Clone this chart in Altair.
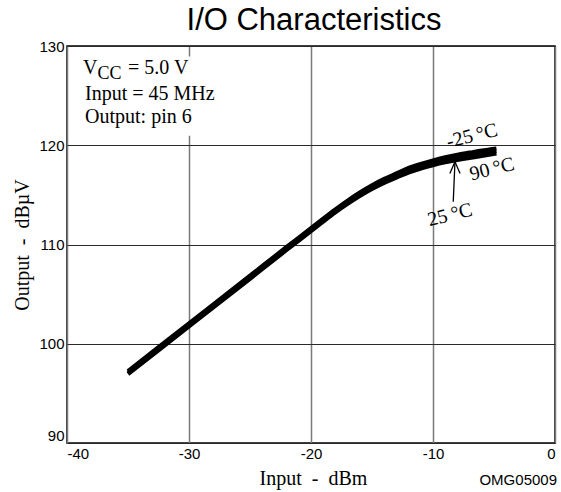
import altair as alt
import pandas as pd

# Input level (dBm) at which each curve is sampled
input_dbm = [-35, -30, -25, -22, -20, -19, -18, -17, -16, -15, -14, -13, -12, -11, -10, -9, -8, -7, -6, -4.8]

# Output level (dBuV) per ambient temperature
out_cold = [97.25, 102.05, 106.85, 109.75, 111.65, 112.61, 113.54, 114.42, 115.23, 115.96, 116.6, 117.15, 117.7, 118.11, 118.47, 118.78, 119.04, 119.25, 119.46, 119.67]
out_room = [97.1, 101.9, 106.7, 109.6, 111.5, 112.46, 113.39, 114.26, 115.06, 115.78, 116.41, 116.95, 117.48, 117.88, 118.23, 118.53, 118.78, 118.99, 119.19, 119.42]
out_hot = [96.95, 101.75, 106.55, 109.45, 111.35, 112.31, 113.24, 114.1, 114.89, 115.6, 116.22, 116.75, 117.26, 117.65, 117.99, 118.28, 118.52, 118.73, 118.92, 119.17]
temps = ["-25°C", "25°C", "90°C"]

x_ticks = [-40, -30, -20, -10, 0]
y_ticks = [90, 100, 110, 120, 130]

SERIF = "Liberation Serif"
SANS = "Liberation Sans"
NB = "\u00a0"

rows = []
for t, series in zip(temps, [out_cold, out_room, out_hot]):
    for xv, yv in zip(input_dbm, series):
        rows.append({"input": xv, "output": yv, "temp": t})
curves = pd.DataFrame(rows)

xs = alt.Scale(domain=[-40, 0], nice=False, zero=False)
ys = alt.Scale(domain=[90, 130], nice=False, zero=False)

lines = alt.Chart(curves).mark_line(
    color="black", strokeWidth=4.2, interpolate="monotone", strokeCap="butt"
).encode(
    x=alt.X("input:Q", scale=xs, title=f"Input{NB}{NB}-{NB}{NB}dBm",
            axis=alt.Axis(values=x_ticks, grid=True, gridColor="#7a7a7a", gridWidth=1.5,
                          ticks=False, domain=False, labelFont=SANS, labelFontSize=15,
                          labelColor="black", labelPadding=3, labelAngle=0,
                          labelExpr="'' + datum.value",
                          titleFont=SERIF, titleFontSize=20, titleFontWeight="normal",
                          titleColor="black", titleX=246, titleY=41,
                          titleBaseline="alphabetic", titleAlign="center")),
    y=alt.Y("output:Q", scale=ys, title=f"Output{NB}{NB}-{NB}{NB}dBµV",
            axis=alt.Axis(values=y_ticks, grid=True, gridColor="#2a2a2a", gridWidth=1.1,
                          ticks=False, domain=False, labelFont=SANS, labelFontSize=15,
                          labelColor="black", labelPadding=3,
                          labelBaseline={"condition": {"test": "datum.value == 90", "value": "bottom"},
                                         "value": "middle"},
                          titleFont=SERIF, titleFontSize=20, titleFontWeight="normal",
                          titleColor="black", titleX=-45, titleY=198.5, titleAngle=270,
                          titleBaseline="middle", titleAlign="center")),
    detail="temp:N",
)

# white panel behind the operating-condition notes
box = pd.DataFrame({"x1": [-39.84], "x2": [-24.0], "y1": [128.95], "y2": [120.95]})
box_layer = alt.Chart(box).mark_rect(color="white").encode(
    x=alt.X("x1:Q", scale=xs), x2="x2:Q",
    y=alt.Y("y1:Q", scale=ys), y2="y2:Q",
)

# arrow pointing at the 25°C curve
arrow = pd.DataFrame({
    "x": [-8.34, -8.20, -8.20],
    "y": [114.31, 118.34, 118.34],
    "x2": [-8.20, -8.62, -7.78],
    "y2": [118.34, 117.15, 117.15],
})
arrow_layer = alt.Chart(arrow).mark_rule(color="black", strokeWidth=1.3).encode(
    x=alt.X("x:Q", scale=xs), y=alt.Y("y:Q", scale=ys),
    x2="x2:Q", y2="y2:Q",
)

# temperature labels along the curves
temp_lbl = pd.DataFrame({
    "x": [-6.80, -5.16, -8.61],
    "y": [120.93, 117.6, 112.97],
    "text": ["-25\u2009°C", "90\u2009°C", "25\u2009°C"],
})
temp_layer = alt.Chart(temp_lbl).mark_text(
    font=SERIF, fontSize=20, angle=346, align="center", baseline="middle", color="black"
).encode(
    x=alt.X("x:Q", scale=xs), y=alt.Y("y:Q", scale=ys), text="text:N"
)

# operating conditions notes
notes = pd.DataFrame({
    "x": [-38.69, -37.50, -35.0, -38.52, -38.52],
    "y": [127.2, 126.65, 127.2, 124.6, 122.25],
    "text": ["V", "CC", "= 5.0 V", "Input = 45 MHz", "Output: pin 6"],
    "size": [20, 18, 20, 20, 20],
})
notes_layer = alt.Chart(notes).mark_text(
    font=SERIF, align="left", baseline="alphabetic", color="black"
).encode(
    x=alt.X("x:Q", scale=xs), y=alt.Y("y:Q", scale=ys),
    text="text:N", size=alt.Size("size:Q", scale=None, legend=None),
)

code_layer = alt.Chart(pd.DataFrame({"t": ["OMG05009"]})).mark_text(
    font=SANS, fontSize=15, align="right", baseline="alphabetic", color="black"
).encode(x=alt.value(490), y=alt.value(439), text="t:N")

chart = alt.layer(
    lines, box_layer, arrow_layer, temp_layer, notes_layer, code_layer
).properties(
    width=488, height=397,
    title=alt.TitleParams("I/O Characteristics", font=SANS, fontSize=31, fontWeight="normal",
                          color="black", anchor="middle", offset=2, dx=3),
    autosize=alt.AutoSizeParams(type="none"),
    padding={"left": 67, "top": 46, "right": 6, "bottom": 49},
    background="white",
).configure_view(stroke="black", strokeWidth=1.5)

chart.save("out.html", embed_options={"renderer": "svg", "actions": False})
